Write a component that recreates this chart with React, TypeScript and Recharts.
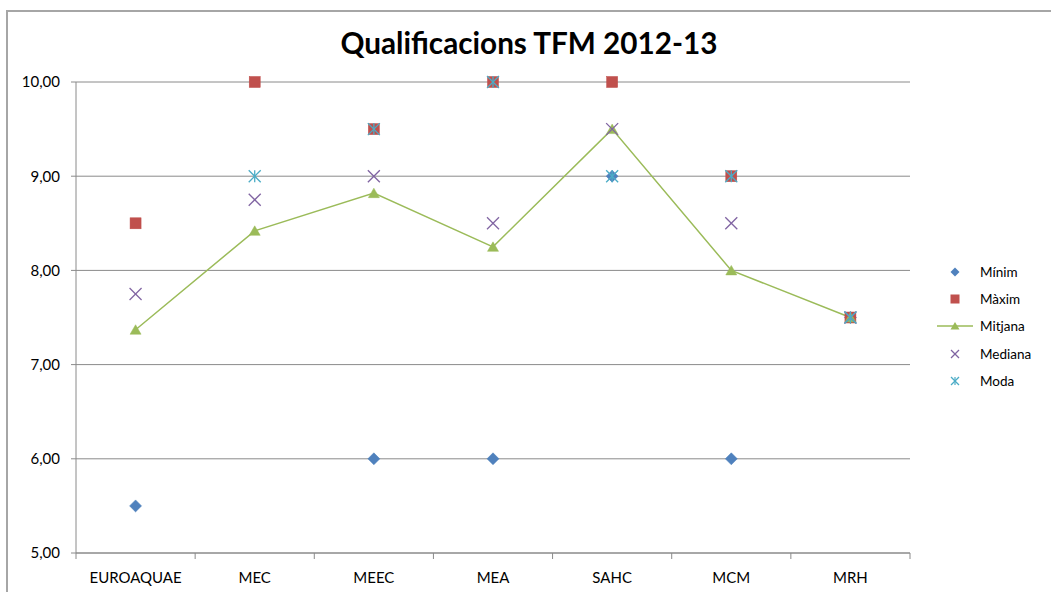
import React from 'react';
import { ComposedChart, Line, XAxis, YAxis, CartesianGrid } from 'recharts';

const categories = ['EUROAQUAE', 'MEC', 'MEEC', 'MEA', 'SAHC', 'MCM', 'MRH'];
const minim: (number | null)[] = [5.5, null, 6, 6, 9, 6, 7.5];
const maxim: (number | null)[] = [8.5, 10, 9.5, 10, 10, 9, 7.5];
const mitjana: (number | null)[] = [7.37, 8.42, 8.82, 8.25, 9.5, 8.0, 7.5];
const mediana: (number | null)[] = [7.75, 8.75, 9.0, 8.5, 9.5, 8.5, 7.5];
const moda: (number | null)[] = [null, 9, 9.5, 10, 9, 9, 7.5];
const yTicks = [5, 6, 7, 8, 9, 10];
const seriesNames = ['Mínim', 'Màxim', 'Mitjana', 'Mediana', 'Moda'];

const data = categories.map((c, i) => ({
  cat: c,
  min: minim[i],
  max: maxim[i],
  mitjana: mitjana[i],
  mediana: mediana[i],
  moda: moda[i],
}));

const FONT = 'Lato, "Open Sans", sans-serif';
const GRID = '#8a8a8a';
const C_MIN = '#4f81bd';
const C_MAX = '#c0504d';
const C_MIT = '#9bbb59';
const C_MED = '#8064a2';
const C_MODA = '#4bacc6';

const CHART_W = 1051;
const CHART_H = 592;
const MARGIN = { top: 82, right: 141, bottom: 0, left: 0 };
const Y_W = 76;
const X_H = 39;
const PLOT_W = CHART_W - MARGIN.left - MARGIN.right - Y_W;
const BW = PLOT_W / categories.length;

const ok = (p: any) => p && p.cx != null && p.cy != null && !isNaN(p.cx) && !isNaN(p.cy) && p.value != null && !(Array.isArray(p.value) && p.value[1] == null);

const Diamond = (p: any) => {
  if (!ok(p)) return <g key={p.key} />;
  const { cx, cy } = p;
  const r = 6;
  return <path key={p.key} d={`M${cx},${cy - r}L${cx + r},${cy}L${cx},${cy + r}L${cx - r},${cy}Z`} fill={C_MIN} stroke="#4a7ebb" strokeWidth={0.5} />;
};
const Square = (p: any) => {
  if (!ok(p)) return <g key={p.key} />;
  const { cx, cy } = p;
  const r = 5.5;
  return <rect key={p.key} x={cx - r} y={cy - r} width={2 * r} height={2 * r} fill={C_MAX} stroke="#be4b48" strokeWidth={0.5} />;
};
const Tri = (p: any) => {
  if (!ok(p)) return <g key={p.key} />;
  const { cx, cy } = p;
  return <path key={p.key} d={`M${cx},${cy - 5}L${cx + 5.5},${cy + 4.5}L${cx - 5.5},${cy + 4.5}Z`} fill={C_MIT} stroke={C_MIT} strokeWidth={0.5} />;
};
const Cross = (p: any) => {
  if (!ok(p)) return <g key={p.key} />;
  const { cx, cy } = p;
  const r = 6;
  return (
    <g key={p.key} stroke={C_MED} strokeWidth={1.3}>
      <line x1={cx - r} y1={cy - r} x2={cx + r} y2={cy + r} />
      <line x1={cx - r} y1={cy + r} x2={cx + r} y2={cy - r} />
    </g>
  );
};
const Star = (p: any) => {
  if (!ok(p)) return <g key={p.key} />;
  const { cx, cy } = p;
  const r = 6;
  return (
    <g key={p.key} stroke={C_MODA} strokeWidth={1.3}>
      <line x1={cx - r} y1={cy - r} x2={cx + r} y2={cy + r} />
      <line x1={cx - r} y1={cy + r} x2={cx + r} y2={cy - r} />
      <line x1={cx} y1={cy - r} x2={cx} y2={cy + r} />
    </g>
  );
};

const XTick = (props: any) => {
  const { x, y, payload, index } = props;
  const last = index === categories.length - 1;
  return (
    <g>
      <line x1={x - BW / 2} y1={y} x2={x - BW / 2} y2={y + 6} stroke={GRID} strokeWidth={1} />
      {last && <line x1={x + BW / 2} y1={y} x2={x + BW / 2} y2={y + 6} stroke={GRID} strokeWidth={1} />}
      <text x={x} y={y + 30} textAnchor="middle" fontSize={15} fontFamily={FONT} fill="#000">
        {payload.value}
      </text>
    </g>
  );
};

const legendIcon = (name: string) => {
  const cx = 18, cy = 8;
  switch (name) {
    case 'Mínim':
      return <path d={`M${cx},${cy - 4.5}L${cx + 4.5},${cy}L${cx},${cy + 4.5}L${cx - 4.5},${cy}Z`} fill={C_MIN} />;
    case 'Màxim':
      return <rect x={cx - 4.5} y={cy - 4.5} width={9} height={9} fill={C_MAX} />;
    case 'Mitjana':
      return (
        <g>
          <line x1={0} y1={cy} x2={36} y2={cy} stroke={C_MIT} strokeWidth={1.5} />
          <path d={`M${cx},${cy - 4}L${cx + 4.5},${cy + 3.5}L${cx - 4.5},${cy + 3.5}Z`} fill={C_MIT} />
        </g>
      );
    case 'Mediana':
      return (
        <g stroke={C_MED} strokeWidth={1.2}>
          <line x1={cx - 4} y1={cy - 4} x2={cx + 4} y2={cy + 4} />
          <line x1={cx - 4} y1={cy + 4} x2={cx + 4} y2={cy - 4} />
        </g>
      );
    default:
      return (
        <g stroke={C_MODA} strokeWidth={1.2}>
          <line x1={cx - 4} y1={cy - 4} x2={cx + 4} y2={cy + 4} />
          <line x1={cx - 4} y1={cy + 4} x2={cx + 4} y2={cy - 4} />
          <line x1={cx} y1={cy - 4} x2={cx} y2={cy + 4} />
        </g>
      );
  }
};

export default function App() {
  return (
    <div style={{ position: 'absolute', left: 0, top: 0, width: CHART_W, height: CHART_H, overflow: 'hidden', background: '#fff' }}>
      <div style={{ position: 'absolute', left: 6, top: 10, width: 1200, height: 800, border: '2px solid #a6a6a6', boxSizing: 'border-box' }} />
      <div style={{ position: 'absolute', left: 0, top: 0 }}>
        <ComposedChart width={CHART_W} height={CHART_H} data={data} margin={MARGIN}>
          <CartesianGrid vertical={false} stroke={GRID} strokeWidth={1} />
          <XAxis
            dataKey="cat"
            scale="band"
            height={X_H}
            axisLine={{ stroke: GRID }}
            tickLine={false}
            tickSize={0}
            tickMargin={0}
            interval={0}
            tick={<XTick />}
          />
          <YAxis
            domain={[5, 10]}
            ticks={yTicks}
            width={Y_W}
            axisLine={{ stroke: GRID }}
            tickLine={{ stroke: GRID }}
            tickSize={5}
            tickMargin={11}
            tick={{ fontSize: 15, fontFamily: FONT, fill: '#000' }}
            tickFormatter={(v: number) => v.toFixed(2).replace('.', ',')}
          />
          <Line dataKey="min" stroke="none" dot={Diamond} activeDot={false} isAnimationActive={false} connectNulls={false} />
          <Line dataKey="max" stroke="none" dot={Square} activeDot={false} isAnimationActive={false} connectNulls={false} />
          <Line dataKey="mitjana" stroke={C_MIT} strokeWidth={1.5} dot={Tri} activeDot={false} isAnimationActive={false} type="linear" />
          <Line dataKey="mediana" stroke="none" dot={Cross} activeDot={false} isAnimationActive={false} connectNulls={false} />
          <Line dataKey="moda" stroke="none" dot={Star} activeDot={false} isAnimationActive={false} connectNulls={false} />
        </ComposedChart>
      </div>
      <div style={{ position: 'absolute', left: 0, width: 1058, top: 25, textAlign: 'center', fontFamily: FONT, fontWeight: 'bold', fontSize: 29.7, color: '#000' }}>
        Qualificacions TFM 2012-13
      </div>
      <div style={{ position: 'absolute', left: 937, top: 258, fontFamily: FONT, fontSize: 13.5, color: '#000' }}>
        {seriesNames.map((n) => (
          <div key={n} style={{ display: 'flex', alignItems: 'center', height: 27.3 }}>
            <svg width={38} height={16} style={{ display: 'block' }}>{legendIcon(n)}</svg>
            <span style={{ marginLeft: 5 }}>{n}</span>
          </div>
        ))}
      </div>
    </div>
  );
}
